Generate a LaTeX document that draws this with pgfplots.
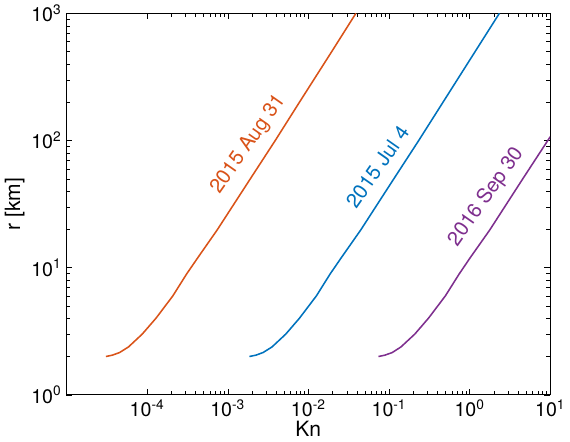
\documentclass[border=0pt]{standalone}
\usepackage{fontspec}
\setmainfont{TeX Gyre Heros}
\usepackage{pgfplots}
\pgfplotsset{compat=1.18}
\definecolor{mo}{rgb}{0.85,0.325,0.098}
\definecolor{mb}{rgb}{0,0.447,0.741}
\definecolor{mp}{rgb}{0.494,0.184,0.556}
\newcommand{\e}[1]{10\textsuperscript{#1}}
\begin{document}
\begin{tikzpicture}
\begin{axis}[
  scale only axis, width=345pt, height=272pt,
  xmode=log, ymode=log, xmin=1e-5, xmax=10, ymin=1, ymax=1000,
  xtick={1e-4,1e-3,1e-2,1e-1,1,10},
  xticklabels={\e{-4},\e{-3},\e{-2},\e{-1},\e{0},\e{1}},
  ytick={1,10,100,1000},
  yticklabels={\e{0},\e{1},\e{2},\e{3}},
  tick align=inside, axis line style={line width=0.8pt},
  tick style={black}, clip=true,
  xlabel={Kn}, ylabel={r [km]},
  xlabel style={yshift=4pt}, ylabel style={yshift=-2pt},
  ticklabel style={font=\fontsize{14}{16}\selectfont},
  label style={font=\fontsize{15}{17}\selectfont},
  every axis plot/.append style={line width=1.1pt},
]
\addplot[mo] coordinates {(3.09e-5,2)(3.72e-5,2.05)(4.57e-5,2.15)(5.89e-5,2.38)(8.71e-5,3)(1.29e-4,4)(2.09e-4,6)(3.09e-4,8.9)(4.27e-4,12)(7.41e-4,19.8)(1.91e-3,50)(3.89e-3,100)(7.76e-3,200)(1.95e-2,500)(3.89e-2,1000)};
\addplot[mb] coordinates {(1.86e-3,2)(2.24e-3,2.05)(2.75e-3,2.15)(3.55e-3,2.38)(5.25e-3,3)(7.76e-3,4)(1.26e-2,6)(1.86e-2,8.9)(2.57e-2,12)(4.47e-2,19.8)(0.115,50)(0.234,100)(0.468,200)(1.17,500)(2.34,1000)};
\addplot[mp] coordinates {(0.0741,2)(0.0891,2.05)(0.110,2.15)(0.141,2.38)(0.209,3)(0.309,4)(0.501,6)(0.741,8.9)(1.02,12)(1.78,19.8)(4.57,50)(9.33,100)(10,107)};
\node[mo, rotate=55, font=\fontsize{14.5}{16}\selectfont] at (axis cs:1.8e-3,93) {2015 Aug 31};
\node[mb, rotate=55, font=\fontsize{14.5}{16}\selectfont] at (axis cs:0.072,62) {2015 Jul 4};
\node[mp, rotate=55, font=\fontsize{14.5}{16}\selectfont] at (axis cs:1.6,36) {2016 Sep 30};
\end{axis}
\end{tikzpicture}
\end{document}
